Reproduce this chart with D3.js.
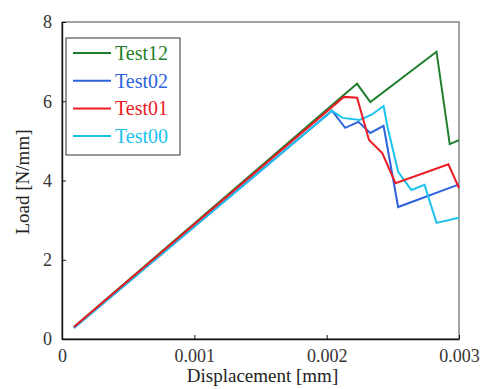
<!DOCTYPE html>
<html>
<head>
<meta charset="utf-8">
<script src="https://cdn.jsdelivr.net/npm/d3@7"></script>
<style>
  body { margin: 0; background: #fff; }
</style>
</head>
<body>
<div id="chart"></div>
<script>
// series names and colours
const seriesNames = ['Test12', 'Test02', 'Test01', 'Test00'];
const seriesColors = ['#1f7f2c', '#2f62dd', '#ec1c24', '#1cc2ee'];

// displacement [mm] / load [N/mm]
const dispTest12 = [0.00009, 0.00212, 0.00223, 0.00233, 0.00283, 0.00293, 0.0030];
const loadTest12 = [0.30, 6.13, 6.44, 5.98, 7.25, 4.92, 5.02];

const dispTest02 = [0.00009, 0.00204, 0.00214, 0.00224, 0.00233, 0.00243, 0.00254, 0.00299, 0.0030];
const loadTest02 = [0.28, 5.76, 5.33, 5.48, 5.20, 5.38, 3.33, 3.89, 3.90];

const dispTest01 = [0.00009, 0.00213, 0.00223, 0.00232, 0.00242, 0.00252, 0.00292, 0.0030];
const loadTest01 = [0.30, 6.11, 6.09, 5.02, 4.69, 3.93, 4.41, 3.81];

const dispTest00 = [0.00009, 0.00204, 0.00212, 0.00225, 0.00234, 0.00243, 0.00246, 0.00254, 0.00264, 0.00274, 0.00283, 0.0030];
const loadTest00 = [0.28, 5.76, 5.58, 5.53, 5.66, 5.88, 5.35, 4.22, 3.76, 3.89, 2.93, 3.06];

const xTicks = [0, 0.001, 0.002, 0.003];
const xTickLabels = ['0', '0.001', '0.002', '0.003'];
const yTicks = [0, 2, 4, 6, 8];

const fontFam = '"Liberation Serif", "Times New Roman", serif';

const width = 482, height = 389;
const margin = { top: 22, right: 23, bottom: 50, left: 62 };
const innerW = width - margin.left - margin.right;
const innerH = height - margin.top - margin.bottom;

const svg = d3.select('#chart').append('svg')
    .attr('width', width)
    .attr('height', height)
    .style('display', 'block')
    .attr('font-family', fontFam);

const g = svg.append('g')
    .attr('transform', `translate(${margin.left},${margin.top})`);

const x = d3.scaleLinear().domain([0, 0.003]).range([0, innerW]);
const y = d3.scaleLinear().domain([0, 8]).range([innerH, 0]);

// frame (top / right lighter)
g.append('rect')
    .attr('width', innerW)
    .attr('height', innerH)
    .attr('fill', 'none')
    .attr('stroke', '#666')
    .attr('stroke-width', 1.2);

// axes with inward ticks
const xAxis = d3.axisBottom(x)
    .tickValues(xTicks)
    .tickFormat((d, i) => xTickLabels[i])
    .tickSizeInner(-4)
    .tickSizeOuter(0)
    .tickPadding(10);

const yAxis = d3.axisLeft(y)
    .tickValues(yTicks)
    .tickSizeInner(-4)
    .tickSizeOuter(0)
    .tickPadding(10);

const gx = g.append('g')
    .attr('transform', `translate(0,${innerH})`)
    .call(xAxis);
const gy = g.append('g').call(yAxis);

[gx, gy].forEach(a => {
    a.attr('font-family', fontFam).attr('font-size', 18);
    a.select('.domain').attr('stroke', '#111').attr('stroke-width', 1.4);
    a.selectAll('.tick line').attr('stroke', '#111');
    a.selectAll('.tick text').attr('fill', '#333');
});

// series lines
const series = [
    { name: seriesNames[0], color: seriesColors[0], xs: dispTest12, ys: loadTest12 },
    { name: seriesNames[1], color: seriesColors[1], xs: dispTest02, ys: loadTest02 },
    { name: seriesNames[2], color: seriesColors[2], xs: dispTest01, ys: loadTest01 },
    { name: seriesNames[3], color: seriesColors[3], xs: dispTest00, ys: loadTest00 }
];

const line = d3.line()
    .x(d => x(d[0]))
    .y(d => y(d[1]));

const drawOrder = [0, 1, 3, 2];
drawOrder.forEach(i => {
    const s = series[i];
    g.append('path')
        .datum(d3.zip(s.xs, s.ys))
        .attr('fill', 'none')
        .attr('stroke', s.color)
        .attr('stroke-width', 2)
        .attr('d', line);
});

// axis titles
svg.append('text')
    .attr('x', margin.left + innerW / 2 + 2)
    .attr('y', 382)
    .attr('text-anchor', 'middle')
    .attr('fill', '#222')
    .attr('font-size', 19)
    .text('Displacement [mm]');

svg.append('text')
    .attr('transform', `translate(29,182) rotate(-90)`)
    .attr('text-anchor', 'middle')
    .attr('fill', '#222')
    .attr('font-size', 19)
    .text('Load [N/mm]');

// legend
const legend = svg.append('g').attr('transform', 'translate(66,38)');
legend.append('rect')
    .attr('width', 114)
    .attr('height', 117)
    .attr('fill', '#fff')
    .attr('stroke', '#333')
    .attr('stroke-width', 1);

series.forEach((s, i) => {
    const ly = 15 + i * 27.7;
    legend.append('line')
        .attr('x1', 7).attr('x2', 45)
        .attr('y1', ly).attr('y2', ly)
        .attr('stroke', s.color)
        .attr('stroke-width', 2);
    legend.append('text')
        .attr('x', 49)
        .attr('y', ly + 7)
        .attr('fill', s.color)
        .attr('font-size', 20)
        .text(s.name);
});
</script>
</body>
</html>
